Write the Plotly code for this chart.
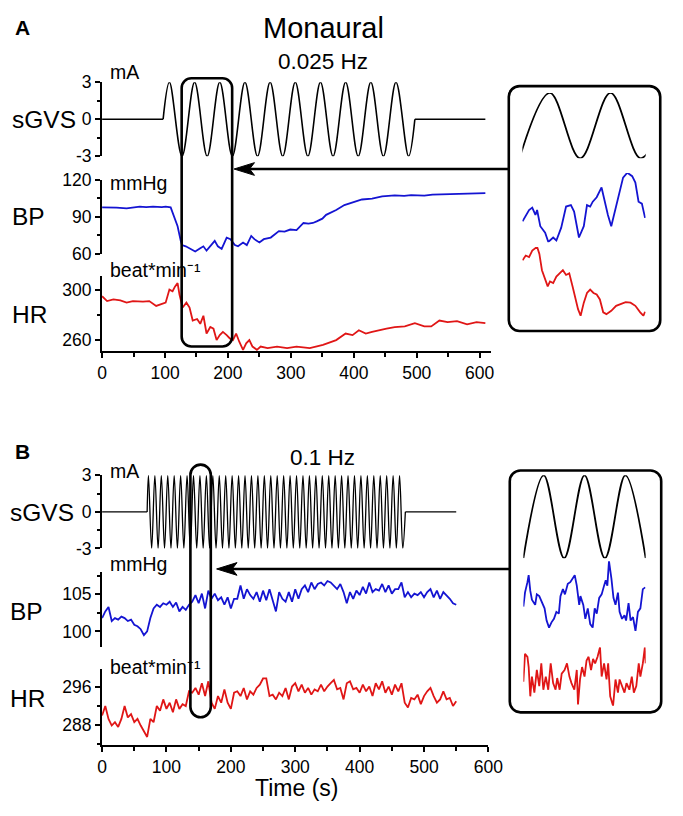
import plotly.graph_objects as go

W, H = 683, 816
FONT = "Liberation Sans, Arial, sans-serif"

# ---------------- panel A : 0.025 Hz ----------------
# stimulus: zero crossing, then peaks / troughs, then zero crossing (mA)
sgvs_a_t = [97, 107, 127, 147, 167, 187, 207, 227, 247, 267, 287,
            307, 327, 347, 367, 387, 407, 427, 447, 467, 487, 497]
sgvs_a_v = [0, 3, -3, 3, -3, 3, -3, 3, -3, 3, -3,
            3, -3, 3, -3, 3, -3, 3, -3, 3, -3, 0]
sgvs_a_base_t = [0, 97, None, 497, 609]
sgvs_a_base_v = [0, 0, None, 0, 0]

bp_a_t = [0, 12, 23, 39, 50, 60, 70, 81, 95, 101, 109, 114, 120, 125, 127, 133, 140, 148, 156, 161,
          166, 174, 179, 184, 190, 198, 204, 211, 216, 224, 230, 237, 242, 250, 257, 268, 281, 290, 299, 309,
          320, 328, 335, 341, 350, 356, 364, 372, 385, 398, 413, 429, 445, 465, 480, 491, 512, 525, 538, 555,
          569, 590, 609]
bp_a_v = [97.6, 97.8, 97.4, 96.9, 97.8, 98.2, 97.9, 98.2, 97.9, 98.2, 97.6, 90.3, 82.4, 70.5, 67.1, 66.1, 64.0, 61.9, 64.5, 66.1,
          62.6, 67.9, 70.5, 66.1, 64.0, 73.2, 71.9, 67.1, 66.1, 69.2, 67.1, 74.5, 71.9, 69.2, 71.9, 73.2, 78.4, 78.0, 79.7, 79.2,
          85.0, 84.5, 85.0, 86.3, 88.5, 91.6, 93.5, 95.5, 99.5, 101.6, 104.0, 104.7, 106.6, 107.4, 107.0, 107.6, 107.1, 108.0, 108.2, 108.4,
          108.7, 109.2, 109.2]

hr_a_t = [0, 8, 18, 29, 39, 49, 65, 75, 86, 94, 101, 107, 112, 116, 120, 123, 128, 134, 139, 144,
          151, 156, 161, 166, 172, 177, 182, 187, 192, 198, 203, 208, 213, 218, 224, 229, 234, 239, 246, 252,
          263, 278, 294, 309, 330, 351, 372, 387, 398, 408, 419, 429, 439, 452, 465, 481, 497, 512, 523, 536,
          549, 564, 580, 595, 609]
hr_a_v = [295.0, 291.1, 292.4, 291.6, 289.8, 291.1, 290.6, 291.1, 287.2, 288.5, 289.8, 300.3, 299.0, 302.9, 305.5, 296.3, 285.9, 289.8, 285.9, 275.4,
          276.7, 272.8, 279.3, 265.0, 270.2, 268.9, 259.7, 263.7, 266.3, 263.7, 261.0, 259.7, 265.0, 258.4, 251.9, 257.1, 259.7, 254.5, 251.9, 254.5,
          253.2, 254.5, 253.2, 254.5, 253.2, 255.8, 259.7, 265.0, 263.7, 267.6, 265.0, 266.3, 267.6, 268.9, 270.2, 270.7, 273.3, 270.7, 270.7, 275.4,
          274.1, 274.9, 272.3, 274.1, 273.3]

# inset A (zoom of the boxed window)
ins_a_sgvs_t = [127, 147, 167, 187, 207, 227]
ins_a_sgvs_v = [-3, 3, -3, 3, -3, 3]
ins_a_bp_t = [129.0, 133.3, 135.4, 137.5, 138.6, 140.7, 143.9, 146.0, 149.2, 151.3, 154.5, 157.7, 160.9, 163.0, 166.2, 169.4,
              171.5, 173.6, 175.3, 177.9, 181.1, 183.2, 185.3, 187.5, 190.7, 192.8, 195.3, 198.1, 201.3, 203.4, 205.5, 207.7, 209.8]
ins_a_bp_v = [66.2, 68.5, 69.0, 67.5, 68.5, 65.2, 63.9, 62.0, 62.9, 62.3, 64.9, 69.2, 69.5, 68.2, 62.9, 65.2,
              69.5, 69.2, 70.2, 71.1, 73.1, 70.2, 67.5, 65.2, 69.5, 71.8, 75.1, 76.1, 75.4, 74.1, 70.2, 69.8, 66.9]
ins_a_hr_t = [129.0, 131.1, 133.3, 135.4, 138.6, 140.1, 141.8, 143.9, 145.6, 147.1, 149.2, 151.3, 153.4, 155.6, 157.7, 159.8,
              162.0, 164.1, 165.6, 167.3, 169.4, 171.5, 173.6, 175.8, 177.9, 180.0, 182.2, 184.3, 187.5, 190.7, 193.8, 197.0,
              200.2, 203.4, 206.6, 208.7, 209.8]
ins_a_hr_v = [288.3, 290.7, 289.9, 293.2, 295.1, 291.5, 283.3, 278.4, 275.1, 277.6, 276.8, 280.1, 281.7, 283.3, 280.9, 281.7,
              275.1, 268.5, 263.6, 260.3, 266.9, 271.8, 273.5, 271.8, 271.0, 268.5, 262.0, 261.1, 262.8, 265.3, 266.1, 267.2,
              266.9, 265.3, 262.0, 260.3, 262.3]

# ---------------- panel B : 0.1 Hz ----------------
sgvs_b_t = [70,
            72, 77, 82, 87, 92, 97, 102, 107, 112, 117, 122, 127, 132, 137, 142, 147, 152, 157, 162, 167,
            172, 177, 182, 187, 192, 197, 202, 207, 212, 217, 222, 227, 232, 237, 242, 247, 252, 257, 262, 267,
            272, 277, 282, 287, 292, 297, 302, 307, 312, 317, 322, 327, 332, 337, 342, 347, 352, 357, 362, 367,
            372, 377, 382, 387, 392, 397, 402, 407, 412, 417, 422, 427, 432, 437, 442, 447, 452, 457, 462, 467,
            471]
sgvs_b_v = [0,
            3, -3, 3, -3, 3, -3, 3, -3, 3, -3, 3, -3, 3, -3, 3, -3, 3, -3, 3, -3,
            3, -3, 3, -3, 3, -3, 3, -3, 3, -3, 3, -3, 3, -3, 3, -3, 3, -3, 3, -3,
            3, -3, 3, -3, 3, -3, 3, -3, 3, -3, 3, -3, 3, -3, 3, -3, 3, -3, 3, -3,
            3, -3, 3, -3, 3, -3, 3, -3, 3, -3, 3, -3, 3, -3, 3, -3, 3, -3, 3, -3,
            0]
sgvs_b_base_t = [0, 70, None, 471, 550]
sgvs_b_base_v = [0, 0, None, 0, 0]

time_b = list(range(0, 550, 5)) + [550]
bp_b_v = [101.8, 102.7, 103.3, 101.4, 101.8, 101.6, 102.0, 101.8, 101.4, 101.6,
          100.9, 100.7, 100.3, 99.5, 100.0, 101.8, 103.1, 103.6, 103.3, 103.8,
          103.6, 104.0, 103.3, 103.9, 102.7, 103.3, 102.9, 103.6, 104.0, 104.9,
          103.8, 105.1, 103.1, 105.5, 104.4, 105.1, 104.2, 104.6, 103.6, 104.6,
          103.1, 104.4, 104.4, 106.2, 104.4, 105.7, 104.9, 104.4, 105.3, 104.0,
          105.5, 104.2, 105.7, 104.0, 102.7, 105.3, 104.4, 104.0, 105.3, 104.0,
          105.7, 104.4, 105.7, 106.2, 105.3, 106.6, 105.7, 106.4, 106.6, 106.2,
          106.8, 106.6, 106.2, 105.7, 106.4, 105.3, 103.8, 105.3, 104.4, 105.5,
          104.9, 106.0, 105.1, 106.6, 105.3, 105.7, 105.5, 106.4, 105.3, 106.2,
          105.1, 105.7, 105.7, 106.6, 104.6, 105.3, 104.6, 105.1, 104.9, 105.3,
          104.6, 105.3, 105.7, 104.6, 105.5, 104.4, 105.3, 104.9, 104.4, 103.8,
          103.6]
hr_b_v = [290.0, 292.0, 289.3, 287.9, 288.6, 287.6, 289.3, 292.0, 289.6, 290.3,
          288.6, 289.3, 287.9, 286.6, 285.5, 289.3, 288.6, 292.0, 291.0, 293.4,
          291.4, 292.7, 290.7, 293.4, 291.4, 292.4, 292.0, 295.1, 294.8, 295.8,
          294.4, 296.8, 294.1, 297.2, 292.7, 291.4, 294.1, 292.7, 295.5, 292.7,
          291.4, 294.8, 295.1, 294.1, 295.8, 293.4, 295.1, 294.4, 295.8, 296.5,
          297.8, 297.8, 294.1, 294.4, 293.4, 294.8, 294.1, 295.8, 293.4, 296.1,
          296.8, 295.1, 296.5, 294.8, 295.8, 294.4, 295.5, 295.1, 296.5, 295.1,
          296.1, 296.8, 297.5, 295.5, 295.8, 293.4, 296.8, 297.2, 295.5, 295.8,
          294.8, 296.5, 295.1, 296.1, 294.1, 296.8, 295.5, 297.2, 294.8, 296.1,
          294.4, 296.5, 295.1, 296.8, 292.7, 291.7, 293.7, 293.4, 294.4, 292.4,
          294.1, 295.1, 295.8, 294.1, 292.7, 293.4, 295.1, 293.4, 293.7, 292.0,
          293.0]

# inset B
ins_b_sgvs_t = [137, 142, 147, 152, 157, 162, 167]
ins_b_sgvs_v = [-3, 3, -3, 3, -3, 3, -3]
ins_b_bp_t = [137.0, 137.4, 138.0, 138.3, 138.7, 139.1, 139.9, 140.3, 140.9, 141.5, 142.2, 142.7, 143.3, 143.9,
              144.5, 145.1, 145.7, 146.1, 146.7, 147.2, 147.9, 148.5, 149.1, 149.6, 150.1, 150.7, 151.0, 151.7,
              152.2, 152.8, 153.4, 154.0, 154.5, 155.0, 155.6, 156.2, 156.8, 157.2, 157.6, 158.0, 158.6, 159.1,
              159.6, 160.2, 160.6, 161.2, 161.8, 162.2, 162.8, 163.3, 163.9, 164.5, 165.1, 165.7, 166.3, 166.9]
ins_b_bp_v = [103.4, 104.2, 104.8, 105.2, 104.3, 103.8, 103.5, 104.1, 104.0, 103.7, 103.3, 102.6, 102.2, 102.5,
              102.7, 103.1, 103.0, 104.0, 104.4, 104.1, 104.7, 104.8, 105.0, 105.2, 104.6, 103.5, 104.0, 103.5,
              102.7, 103.3, 102.4, 102.2, 103.3, 103.0, 103.9, 104.1, 104.6, 104.9, 104.6, 106.0, 105.0, 103.9,
              103.5, 104.2, 103.1, 102.7, 102.9, 102.6, 103.6, 102.6, 102.8, 102.0, 103.1, 103.3, 104.4, 104.5]
ins_b_hr_t = [137.0, 137.4, 138.0, 138.3, 138.7, 139.1, 139.7, 140.3, 140.9, 141.4, 141.9, 142.5, 143.1, 143.7,
              144.3, 144.9, 145.3, 145.9, 146.4, 147.1, 147.7, 148.3, 148.8, 149.5, 150.1, 150.4, 150.9, 151.4,
              152.0, 152.5, 153.0, 153.6, 154.1, 154.6, 155.2, 155.8, 156.2, 156.8, 157.4, 157.8, 158.3, 159.0,
              159.6, 160.2, 160.6, 161.2, 161.8, 162.3, 163.0, 163.6, 164.1, 164.7, 165.3, 165.7, 166.3, 166.8, 167.0]
ins_b_hr_v = [293.3, 297.1, 296.7, 295.3, 291.3, 294.0, 291.8, 294.9, 292.7, 295.8, 292.2, 294.0, 292.2, 295.8,
              293.1, 292.2, 293.8, 292.2, 294.4, 294.9, 295.8, 294.0, 293.1, 292.2, 294.9, 290.2, 293.6, 295.3,
              294.0, 296.2, 296.7, 294.9, 296.4, 295.8, 296.7, 298.0, 294.0, 295.8, 293.6, 295.8, 291.3, 290.0,
              293.6, 291.8, 293.6, 292.7, 291.8, 293.1, 292.2, 294.0, 291.8, 292.7, 295.8, 294.0, 295.8, 298.0, 295.8]

# ticks
x_ticks = [0, 100, 200, 300, 400, 500, 600]
x_minor = [50, 150, 250, 350, 450, 550]
sgvs_ticks = [-3, 0, 3]
sgvs_ticktext = ["-3", "0", "3"]
bp_a_ticks = [60, 90, 120]
hr_a_ticks = [260, 300]
bp_b_ticks = [100, 105]
hr_b_ticks = [288, 296]

BLACK = "black"
BLUE = "#1414d2"
RED = "#e01616"
TICK_SIZE = 17.5


def px(x):
    return x / W


def py(y):
    return 1 - y / H


def ydom(bottom, top):
    return [py(bottom), py(top)]


def main_y(bottom, top, rng, tickvals, minor_vals, anchor, ticktext=None):
    ax = dict(domain=ydom(bottom, top), range=rng, anchor=anchor,
              showline=True, linecolor=BLACK, linewidth=2,
              ticks="outside", ticklen=5, tickwidth=2, tickcolor=BLACK,
              tickmode="array", tickvals=tickvals,
              tickfont=dict(size=TICK_SIZE, color=BLACK, family=FONT),
              minor=dict(tickmode="array", tickvals=minor_vals, ticks="outside",
                         ticklen=3, tickwidth=1.5, tickcolor=BLACK),
              showgrid=False, zeroline=False)
    if ticktext is not None:
        ax["ticktext"] = ticktext
    return ax


def main_x(left, right, rng, anchor):
    return dict(domain=[px(left), px(right)], range=rng, anchor=anchor,
                showline=True, linecolor=BLACK, linewidth=2,
                ticks="outside", ticklen=5, tickwidth=2, tickcolor=BLACK,
                tickmode="array", tickvals=x_ticks,
                tickfont=dict(size=TICK_SIZE, color=BLACK, family=FONT),
                minor=dict(tickmode="array", tickvals=x_minor, ticks="outside",
                           ticklen=4, tickwidth=1.5, tickcolor=BLACK),
                showgrid=False, zeroline=False)


def hidden(dom, rng, anchor):
    return dict(domain=dom, range=rng, anchor=anchor, visible=False,
                showgrid=False, zeroline=False)


fig = go.Figure()


def add(x, y, xa, ya, color, width, shape="linear"):
    fig.add_trace(go.Scatter(x=x, y=y, xaxis=xa, yaxis=ya, mode="lines",
                             line=dict(color=color, width=width, shape=shape),
                             hoverinfo="skip", showlegend=False))


# panel A main
add(sgvs_a_base_t, sgvs_a_base_v, "x", "y", BLACK, 1.3)
add(sgvs_a_t, sgvs_a_v, "x", "y", BLACK, 1.6, "spline")
add(bp_a_t, bp_a_v, "x", "y2", BLUE, 1.8)
add(hr_a_t, hr_a_v, "x", "y3", RED, 1.8)
# panel B main
add(sgvs_b_base_t, sgvs_b_base_v, "x2", "y4", BLACK, 1.3)
add(sgvs_b_t, sgvs_b_v, "x2", "y4", BLACK, 1.3, "spline")
add(time_b, bp_b_v, "x2", "y5", BLUE, 1.8)
add(time_b, hr_b_v, "x2", "y6", RED, 1.8)
# insets
add(ins_a_sgvs_t, ins_a_sgvs_v, "x3", "y7", BLACK, 1.8, "spline")
add(ins_a_bp_t, ins_a_bp_v, "x3", "y8", BLUE, 1.8)
add(ins_a_hr_t, ins_a_hr_v, "x3", "y9", RED, 1.8)
add(ins_b_sgvs_t, ins_b_sgvs_v, "x4", "y10", BLACK, 1.8, "spline")
add(ins_b_bp_t, ins_b_bp_v, "x4", "y11", BLUE, 1.8)
add(ins_b_hr_t, ins_b_hr_v, "x4", "y12", RED, 1.8)

# size comes from the browser window (full viewport), layout is in fractions
fig.update_layout(
    autosize=True, margin=dict(l=0, r=0, t=0, b=0, pad=0),
    paper_bgcolor="white", plot_bgcolor="white", showlegend=False,
    font=dict(family=FONT, color=BLACK),
    xaxis=main_x(100, 501, [0, 618.5], "y3"),
    xaxis2=main_x(100, 498, [0, 600], "y6"),
    xaxis3=hidden([px(533), px(660)], [128.9, 210.2], "y7"),
    xaxis4=hidden([px(534), px(660)], [137, 167], "y10"),
    yaxis=main_y(150, 74, [-3, 3], sgvs_ticks, [-1.5, 1.5], "x", sgvs_ticktext),
    yaxis2=main_y(250, 174, [60, 120], bp_a_ticks, [75, 105], "x"),
    yaxis3=main_y(350, 273, [250.6, 311], hr_a_ticks, [280], "x"),
    yaxis4=main_y(552, 477, [-3, 3], sgvs_ticks, [-1.5, 1.5], "x2", sgvs_ticktext),
    yaxis5=main_y(653, 576, [97.9, 108.03], bp_b_ticks, [102.5, 107.5], "x2"),
    yaxis6=main_y(753, 676, [283.9, 299.7], hr_b_ticks, [284, 292], "x2"),
    yaxis7=hidden(ydom(152, 85), [-3, 3], "x3"),
    yaxis8=hidden(ydom(238, 167), [61.95, 76.06], "x3"),
    yaxis9=hidden(ydom(314, 243), [260, 295], "x3"),
    yaxis10=hidden(ydom(562, 477), [-3, 3], "x4"),
    yaxis11=hidden(ydom(636.7, 565), [102, 106], "x4"),
    yaxis12=hidden(ydom(713.3, 653.3), [290, 298], "x4"),
)


# ---- boxes and arrows (pixel positions -> paper) ----
def P(x, y):
    return f"{px(x):.5f},{py(y):.5f}"


def rrect(x0, y0, x1, y1, r):
    k = r * 0.552
    return (f"M {P(x0 + r, y0)} L {P(x1 - r, y0)} "
            f"C {P(x1 - r + k, y0)} {P(x1, y0 + r - k)} {P(x1, y0 + r)} "
            f"L {P(x1, y1 - r)} "
            f"C {P(x1, y1 - r + k)} {P(x1 - r + k, y1)} {P(x1 - r, y1)} "
            f"L {P(x0 + r, y1)} "
            f"C {P(x0 + r - k, y1)} {P(x0, y1 - r + k)} {P(x0, y1 - r)} "
            f"L {P(x0, y0 + r)} "
            f"C {P(x0, y0 + r - k)} {P(x0 + r - k, y0)} {P(x0 + r, y0)} Z")


def head(xt, y):
    return f"M {P(xt, y)} L {P(xt + 21, y - 6.5)} L {P(xt + 16, y)} L {P(xt + 21, y + 6.5)} Z"


shapes = []
for x0, y0, x1, y1, r in [(182, 70, 234, 345, 10), (519, 78, 675, 329, 11),
                          (191, 466, 212, 725, 10.5), (520, 472, 676, 720, 11)]:
    shapes.append(dict(type="path", path=rrect(x0, y0, x1, y1, r), xref="paper", yref="paper",
                       line=dict(color=BLACK, width=2.6)))
for xt, y, xend in [(236, 163, 519), (218, 573, 520)]:
    shapes.append(dict(type="line", xref="paper", yref="paper", x0=px(xt + 14), x1=px(xend),
                       y0=py(y), y1=py(y), line=dict(color=BLACK, width=2.6)))
    shapes.append(dict(type="path", path=head(xt, y), xref="paper", yref="paper",
                       fillcolor=BLACK, line=dict(color=BLACK, width=1)))
fig.update_layout(shapes=shapes)

# ---- texts ----
texts = [
    ("A", 18, 18, 21, "center", "bold"),
    ("B", 18, 453, 21, "center", "bold"),
    ("Monaural", 328, 18, 29, "center", "normal"),
    ("0.025 Hz", 328, 53, 22.5, "center", "normal"),
    ("0.1 Hz", 327, 459, 22.5, "center", "normal"),
    ("sGVS", 5, 112, 24.5, "left", "normal"),
    ("BP", 5, 212, 24.5, "left", "normal"),
    ("HR", 5, 312, 24.5, "left", "normal"),
    ("sGVS", 3, 515, 24.5, "left", "normal"),
    ("BP", 3, 617, 24.5, "left", "normal"),
    ("HR", 3, 706, 24.5, "left", "normal"),
    ("mA", 106, 64, 19.5, "left", "normal"),
    ("mmHg", 106, 177, 19.5, "left", "normal"),
    ("beat*min\u207b\u00b9", 106, 267, 19.5, "left", "normal"),
    ("mA", 106, 473, 19.5, "left", "normal"),
    ("mmHg", 106, 568, 19.5, "left", "normal"),
    ("beat*min\u207b\u00b9", 106, 673, 19.5, "left", "normal"),
    ("Time (s)", 300, 798, 23, "center", "normal"),
]
for txt, x, y, size, anchor, weight in texts:
    fig.add_annotation(text=txt, x=px(x), y=py(y), xref="paper", yref="paper",
                       xanchor=anchor, yanchor="middle", showarrow=False,
                       font=dict(size=size, color=BLACK, family=FONT, weight=weight))

fig.write_html(
    "out.html",
    default_width="100vw", default_height="100vh",
    config={"displayModeBar": False, "responsive": True},
    post_script="document.body.style.margin='0px';document.body.style.overflow='hidden';",
)
